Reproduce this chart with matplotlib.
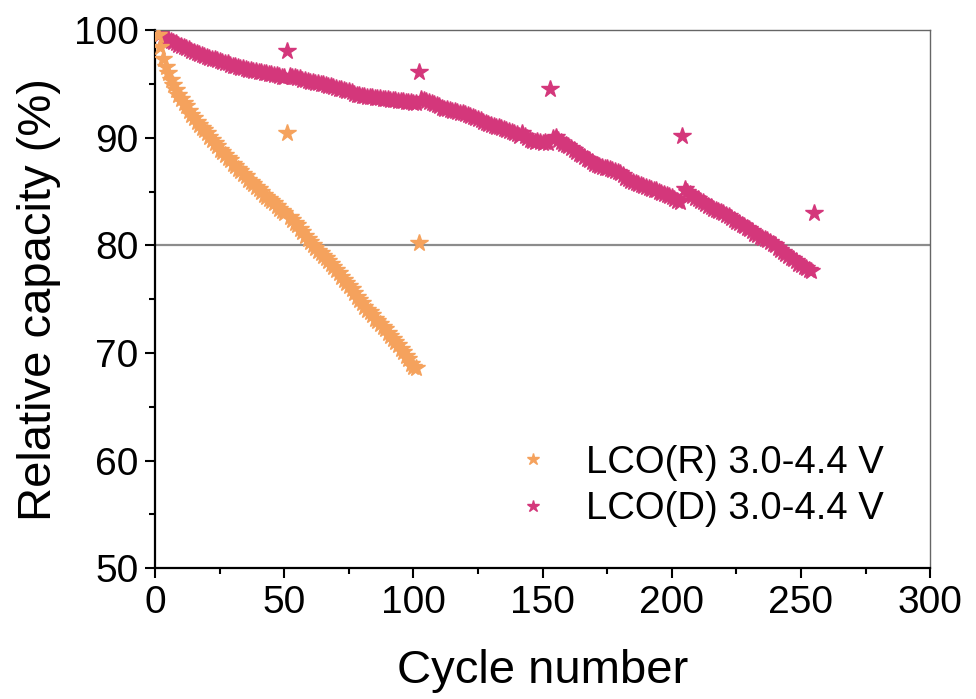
import numpy as np
import matplotlib.pyplot as plt
from matplotlib.ticker import MultipleLocator

plt.rcParams['font.family'] = ['Liberation Sans', 'DejaVu Sans']

# LCO(R): cycles 1..102 (cycles 51 and 102 are the odd check cycles)
cyc_r = np.arange(1, 103)
cap_r = [99.5, 98.4, 97.3, 96.6, 96.0, 95.4, 94.9, 94.4, 94.0, 93.6,
         93.2, 92.9, 92.5, 92.1, 91.8, 91.5, 91.2, 90.9, 90.7, 90.4,
         90.1, 89.8, 89.5, 89.2, 88.9, 88.7, 88.4, 88.1, 87.9, 87.6,
         87.4, 87.1, 86.9, 86.6, 86.4, 86.1, 85.9, 85.7, 85.4, 85.2,
         85.0, 84.7, 84.5, 84.3, 84.1, 83.9, 83.7, 83.4, 83.2, 83.0,
         90.4,
         82.6, 82.4, 82.1, 81.9, 81.5, 81.2, 80.9, 80.6, 80.3,
         80.0, 79.8, 79.5, 79.3, 79.0, 78.8, 78.5, 78.3, 78.0, 77.7,
         77.4, 77.1, 76.8, 76.5, 76.2, 75.9, 75.6, 75.2, 74.9, 74.6,
         74.3, 74.0, 73.8, 73.5, 73.2, 73.0, 72.7, 72.4, 72.2, 71.9,
         71.6, 71.3, 71.0, 70.7, 70.4, 70.1, 69.7, 69.4, 69.0, 68.7,
         68.6, 80.2]

# LCO(D): cycles 1..255 (51, 102, 153, 204, 255 are the check cycles)
cyc_d = np.arange(1, 256)
cap_d = [99.8, 99.6, 99.4, 99.3, 99.2, 99.0, 98.9, 98.8, 98.6, 98.5,
         98.4, 98.3, 98.2, 98.1, 98.0, 97.9, 97.8, 97.7, 97.6, 97.5,
         97.4, 97.3, 97.3, 97.2, 97.1, 97.0, 96.9, 96.9, 96.8, 96.7,
         96.7, 96.6, 96.5, 96.5, 96.4, 96.3, 96.3, 96.2, 96.2, 96.1,
         96.1, 96.0, 96.0, 95.9, 95.9, 95.8, 95.8, 95.7, 95.6, 95.6,
         98.1,
         95.7, 95.6, 95.6, 95.5, 95.5, 95.4, 95.4, 95.3, 95.2,
         95.2, 95.1, 95.1, 95.0, 95.0, 94.9, 94.8, 94.8, 94.7, 94.6,
         94.5, 94.5, 94.4, 94.3, 94.3, 94.2, 94.1, 94.0, 94.0, 93.9,
         93.9, 93.8, 93.8, 93.8, 93.7, 93.7, 93.7, 93.6, 93.6, 93.6,
         93.5, 93.5, 93.5, 93.4, 93.4, 93.4, 93.3, 93.3, 93.3, 93.2,
         93.2, 96.1,
         93.6, 93.5, 93.4, 93.3, 93.2, 93.1, 93.0, 92.9,
         92.8, 92.7, 92.7, 92.6, 92.5, 92.5, 92.4, 92.3, 92.3, 92.2,
         92.1, 92.0, 91.9, 91.8, 91.7, 91.6, 91.5, 91.4, 91.3, 91.2,
         91.1, 91.0, 91.0, 90.9, 90.8, 90.7, 90.6, 90.5, 90.4, 90.3,
         90.2, 90.4, 90.2, 90.0, 89.8, 89.7, 89.6, 89.7, 89.6, 89.5,
         89.6, 89.5, 94.5,
         90.0, 90.1, 89.8, 89.6, 89.4, 89.3, 89.2,
         89.0, 88.9, 88.7, 88.5, 88.4, 88.2, 88.0, 87.9, 87.7, 87.6,
         87.5, 87.4, 87.3, 87.2, 87.2, 87.1, 87.0, 86.9, 86.8, 86.7,
         86.5, 86.3, 86.2, 86.0, 85.9, 85.8, 85.7, 85.6, 85.5, 85.4,
         85.3, 85.2, 85.1, 85.1, 85.0, 84.9, 84.8, 84.7, 84.6, 84.5,
         84.3, 84.1, 84.0, 90.2,
         85.2, 85.0, 84.8, 84.6, 84.4, 84.3,
         84.1, 84.0, 83.8, 83.7, 83.6, 83.4, 83.3, 83.2, 83.1, 83.0,
         82.8, 82.7, 82.5, 82.4, 82.2, 82.1, 81.9, 81.8, 81.6, 81.5,
         81.3, 81.1, 81.0, 80.8, 80.7, 80.6, 80.5, 80.3, 80.1, 80.0,
         79.8, 79.6, 79.4, 79.2, 79.0, 78.8, 78.7, 78.5, 78.3, 78.2,
         78.0, 77.9, 77.7, 77.6, 83.0]

c_r = '#f5a25d'
c_d = '#d4377b'

fig = plt.figure(figsize=(9.76, 6.99), dpi=100)
ax = fig.add_axes([0.159, 0.187, 0.794, 0.770])

ax.axhline(80, color='#8c8c8c', lw=1.6, zorder=1)
ax.plot(cyc_r, cap_r, ls='none', marker='*', ms=13, color=c_r, mec=c_r,
        label='LCO(R) 3.0-4.4 V', zorder=3)
ax.plot(cyc_d, cap_d, ls='none', marker='*', ms=13, color=c_d, mec=c_d,
        label='LCO(D) 3.0-4.4 V', zorder=2)

ax.set_xlim(0, 300)
ax.set_ylim(50, 100)
ax.xaxis.set_major_locator(MultipleLocator(50))
ax.xaxis.set_minor_locator(MultipleLocator(25))
ax.yaxis.set_major_locator(MultipleLocator(10))
ax.yaxis.set_minor_locator(MultipleLocator(5))
ax.tick_params(which='both', direction='out', width=1.5, labelsize=28, pad=5)
ax.tick_params(which='major', length=7)
ax.tick_params(which='minor', length=4)

for s in ['left', 'bottom']:
    ax.spines[s].set_linewidth(1.6)
    ax.spines[s].set_color('black')
for s in ['top', 'right']:
    ax.spines[s].set_linewidth(1.0)
    ax.spines[s].set_color('#666666')

ax.set_xlabel('Cycle number', fontsize=34, labelpad=20)
ax.set_ylabel('Relative capacity (%)', fontsize=34, labelpad=9)

ax.legend(loc='lower right', bbox_to_anchor=(0.985, 0.012), frameon=False,
          fontsize=27.5, markerscale=0.7, handletextpad=0.4, labelspacing=0.28)

fig.savefig('out.png', dpi=100)
